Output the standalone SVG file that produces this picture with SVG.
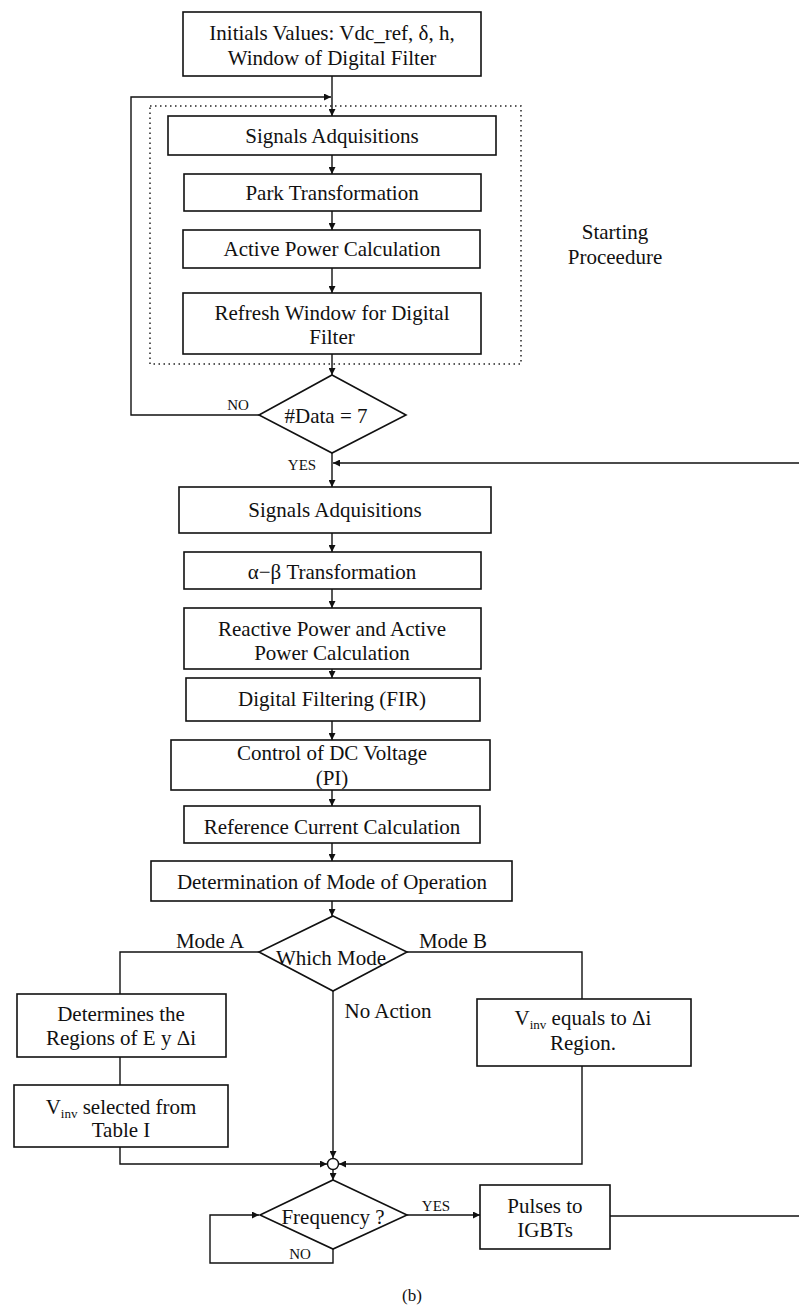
<svg xmlns="http://www.w3.org/2000/svg" width="799" height="1307" viewBox="0 0 799 1307">
<style>
.box{fill:#fff;stroke:#111;stroke-width:1.6}
.dec{fill:#fff;stroke:#111;stroke-width:1.6}
.ln{fill:none;stroke:#111;stroke-width:1.4}
.dot{fill:none;stroke:#222;stroke-width:1.5;stroke-dasharray:1.5 3.5}
text{font-family:"Liberation Serif","Times New Roman",serif;font-size:21px;fill:#111;text-anchor:middle}
.lbl{font-size:15px}
.sub{font-size:13px}
</style>
<defs>
<marker id="arr" viewBox="0 0 10 10" refX="10" refY="5" markerWidth="8" markerHeight="7" markerUnits="userSpaceOnUse" orient="auto">
<path d="M0,0 L10,5 L0,10 z" fill="#111"/>
</marker>
</defs>
<rect width="799" height="1307" fill="#fff"/>

<g id="starting-procedure">
<rect class="dot" x="150" y="106" width="371" height="258"/>
<text x="615" y="239">Starting</text>
<text x="615" y="264">Proceedure</text>
</g>

<g id="connectors">
<path class="ln" d="M332,76 V116" marker-end="url(#arr)"/>
<path class="ln" d="M259,415 H131 V97 H331" marker-end="url(#arr)"/>
<path class="ln" d="M332,155 V174" marker-end="url(#arr)"/>
<path class="ln" d="M332,211 V230" marker-end="url(#arr)"/>
<path class="ln" d="M332,268 V293" marker-end="url(#arr)"/>
<path class="ln" d="M332,354 V375" marker-end="url(#arr)"/>
<path class="ln" d="M332,453 V487" marker-end="url(#arr)"/>
<path class="ln" d="M610,1216 H803 V463 H333" marker-end="url(#arr)"/>
<path class="ln" d="M332,533 V552" marker-end="url(#arr)"/>
<path class="ln" d="M332,589 V608" marker-end="url(#arr)"/>
<path class="ln" d="M332,669 V678" marker-end="url(#arr)"/>
<path class="ln" d="M332,721 V740" marker-end="url(#arr)"/>
<path class="ln" d="M332,790 V806" marker-end="url(#arr)"/>
<path class="ln" d="M332,843 V861" marker-end="url(#arr)"/>
<path class="ln" d="M332,901 V916" marker-end="url(#arr)"/>
<path class="ln" d="M259,952 H120 V994"/>
<path class="ln" d="M120,1057 V1085"/>
<path class="ln" d="M120,1147 V1164 H327" marker-end="url(#arr)"/>
<path class="ln" d="M407,952 H582 V999"/>
<path class="ln" d="M582,1066 V1164 H339" marker-end="url(#arr)"/>
<path class="ln" d="M333,991 V1158" marker-end="url(#arr)"/>
<path class="ln" d="M333,1170 V1180" marker-end="url(#arr)"/>
<path class="ln" d="M407,1215 H480" marker-end="url(#arr)"/>
<path class="ln" d="M333,1249 V1263 H210 V1215 H259" marker-end="url(#arr)"/>
<circle cx="333" cy="1164" r="5.5" fill="#fff" stroke="#111" stroke-width="1.4"/>
<text class="lbl" x="238" y="410">NO</text>
<text class="lbl" x="302" y="470">YES</text>
<text x="210" y="948">Mode A</text>
<text x="453" y="948">Mode B</text>
<text x="388" y="1018">No Action</text>
<text class="lbl" x="436" y="1211">YES</text>
<text class="lbl" x="300" y="1259">NO</text>
</g>

<g id="initial-values">
<rect class="box" x="183" y="12" width="298" height="64"/>
<text x="332" y="40">Initials Values: Vdc_ref, δ, h,</text>
<text x="332" y="65">Window of Digital Filter</text>
</g>
<g id="signals-1">
<rect class="box" x="168" y="116" width="328" height="39"/>
<text x="332" y="143">Signals Adquisitions</text>
</g>
<g id="park">
<rect class="box" x="184" y="174" width="297" height="37"/>
<text x="332" y="200">Park Transformation</text>
</g>
<g id="active-power">
<rect class="box" x="183" y="230" width="297" height="38"/>
<text x="332" y="256">Active Power Calculation</text>
</g>
<g id="refresh">
<rect class="box" x="183" y="293" width="298" height="61"/>
<text x="332" y="320">Refresh Window for Digital</text>
<text x="332" y="344">Filter</text>
</g>
<g id="data-check">
<polygon class="dec" points="332,375 406,415 332,453 259,415"/>
<text x="326" y="423">#Data = 7</text>
</g>
<g id="signals-2">
<rect class="box" x="179" y="487" width="312" height="46"/>
<text x="335" y="517">Signals Adquisitions</text>
</g>
<g id="alpha-beta">
<rect class="box" x="184" y="552" width="297" height="37"/>
<text x="332" y="579">α−β Transformation</text>
</g>
<g id="reactive-power">
<rect class="box" x="184" y="608" width="297" height="61"/>
<text x="332" y="636">Reactive Power and Active</text>
<text x="332" y="660">Power Calculation</text>
</g>
<g id="digital-filtering">
<rect class="box" x="186" y="678" width="294" height="43"/>
<text x="332" y="706">Digital Filtering (FIR)</text>
</g>
<g id="dc-control">
<rect class="box" x="171" y="740" width="319" height="50"/>
<text x="332" y="760">Control of DC Voltage</text>
<text x="332" y="785">(PI)</text>
</g>
<g id="reference-current">
<rect class="box" x="184" y="806" width="296" height="37"/>
<text x="332" y="834">Reference Current Calculation</text>
</g>
<g id="mode-determination">
<rect class="box" x="151" y="861" width="361" height="40"/>
<text x="332" y="889">Determination of Mode of Operation</text>
</g>
<g id="which-mode">
<polygon class="dec" points="333,916 407,952 333,991 259,952"/>
<text x="331" y="965">Which Mode</text>
</g>
<g id="determines-regions">
<rect class="box" x="17" y="994" width="209" height="63"/>
<text x="121" y="1021">Determines the</text>
<text x="121" y="1045">Regions of  E y Δi</text>
</g>
<g id="vinv-selected">
<rect class="box" x="14" y="1085" width="214" height="62"/>
<text x="121" y="1114">V<tspan class="sub" dy="4">inv</tspan><tspan dy="-4"> selected from</tspan></text>
<text x="121" y="1137">Table I</text>
</g>
<g id="vinv-equals">
<rect class="box" x="477" y="999" width="214" height="67"/>
<text x="583" y="1025">V<tspan class="sub" dy="4">inv</tspan><tspan dy="-4"> equals to Δi</tspan></text>
<text x="583" y="1050">Region.</text>
</g>
<g id="frequency">
<polygon class="dec" points="333,1180 407,1215 333,1249 260,1215"/>
<text x="333" y="1224">Frequency ?</text>
</g>
<g id="pulses">
<rect class="box" x="480" y="1185" width="130" height="64"/>
<text x="545" y="1213">Pulses to</text>
<text x="545" y="1237">IGBTs</text>
</g>
<text x="412" y="1301" style="font-size:17px">(b)</text>
</svg>
